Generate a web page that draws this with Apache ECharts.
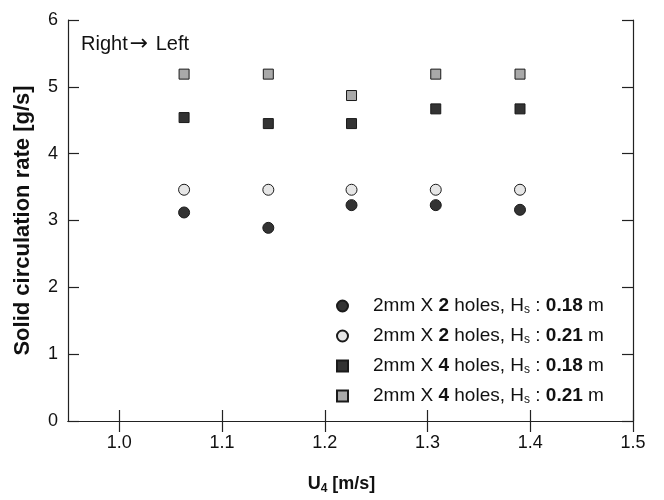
<!DOCTYPE html>
<html>
<head>
<meta charset="utf-8">
<script src="https://cdn.jsdelivr.net/npm/echarts@6/dist/echarts.min.js"></script>
<style>html,body{margin:0;padding:0;background:#fff;}#c{width:664px;height:500px;}</style>
</head>
<body>
<div id="c"></div>
<script>
// ---- data ----
var xValues = [1.063, 1.145, 1.226, 1.308, 1.390];
var holes2_h018 = [3.12, 2.89, 3.23, 3.23, 3.16];
var holes2_h021 = [3.46, 3.46, 3.46, 3.46, 3.46];
var holes4_h018 = [4.54, 4.45, 4.45, 4.67, 4.67];
var holes4_h021 = [5.19, 5.19, 4.87, 5.19, 5.19];
var seriesNames = ['2mm X 2 holes, Hs : 0.18 m', '2mm X 2 holes, Hs : 0.21 m', '2mm X 4 holes, Hs : 0.18 m', '2mm X 4 holes, Hs : 0.21 m'];
var legendRich = ['2mm X {b|2} holes, H{s|s} : {b|0.18} m', '2mm X {b|2} holes, H{s|s} : {b|0.21} m', '2mm X {b|4} holes, H{s|s} : {b|0.18} m', '2mm X {b|4} holes, H{s|s} : {b|0.21} m'];
var xTicks = [1.0, 1.1, 1.2, 1.3, 1.4, 1.5];
var annotation = '{t|Right}{ar|\u2192}{t| Left}';

function pairs(ys) { return xValues.map(function (x, i) { return [x, ys[i]]; }); }

var FONT = '"Liberation Sans", Arial, sans-serif';
var chart = echarts.init(document.getElementById('c'), null, {renderer: 'canvas'});

var axisCommon = {
  axisLine: {show: true, lineStyle: {color: '#222', width: 1.2}},
  axisTick: {show: true, inside: true, length: 11, lineStyle: {color: '#222', width: 1.2}},
  splitLine: {show: false}
};

function scatter(name, data, symbol, size, color) {
  return {
    name: name, type: 'scatter', data: data, symbol: symbol, symbolSize: size,
    itemStyle: {color: color, borderColor: '#1a1a1a', borderWidth: 1, opacity: 1},
    emphasis: {disabled: true}
  };
}

var option = {
  animation: false,
  textStyle: {fontFamily: FONT},
  grid: {left: 68, right: 31, top: 20, bottom: 75, containLabel: false},
  xAxis: [
    Object.assign({}, axisCommon, {
      type: 'value', min: 0.95, max: 1.5, position: 'bottom',
      axisTick: Object.assign({}, axisCommon.axisTick, {customValues: xTicks}),
      axisLabel: {customValues: xTicks, formatter: function (v) { return v.toFixed(1); },
        color: '#111', fontSize: 18, fontFamily: FONT, margin: 13},
      name: 'U{sub|4} [m/s]', nameLocation: 'middle', nameGap: 52,
      nameTextStyle: {fontSize: 18, fontWeight: 'bold', color: '#111', fontFamily: FONT, padding: [0, 18, 0, 0],
        rich: {sub: {fontSize: 12, fontWeight: 'bold', color: '#111', fontFamily: FONT, verticalAlign: 'bottom', padding: [10, 0, 0, 0]}}}
    }),
    Object.assign({}, axisCommon, {
      type: 'value', min: 0.95, max: 1.5, position: 'top',
      axisTick: Object.assign({}, axisCommon.axisTick, {customValues: xTicks}),
      axisLabel: {show: false}
    })
  ],
  yAxis: [
    Object.assign({}, axisCommon, {
      type: 'value', min: 0, max: 6, interval: 1, position: 'left',
      axisLabel: {color: '#111', fontSize: 18, fontFamily: FONT, margin: 10},
      name: 'Solid circulation rate [g/s]', nameLocation: 'middle', nameGap: 34, nameRotate: 90,
      nameTextStyle: {fontSize: 22, fontWeight: 'bold', color: '#111', fontFamily: FONT}
    }),
    Object.assign({}, axisCommon, {
      type: 'value', min: 0, max: 6, interval: 1, position: 'right',
      axisLabel: {show: false}
    })
  ],
  legend: {
    orient: 'vertical', left: 331, top: 291, itemWidth: 11, itemHeight: 11, itemGap: 10,
    data: seriesNames,
    selectedMode: false,
    formatter: function (name) { return legendRich[seriesNames.indexOf(name)]; },
    textStyle: {fontSize: 19, color: '#111', fontFamily: FONT, padding: [0, 0, 0, 20], lineHeight: 20,
      rich: {
        b: {fontSize: 19, fontWeight: 'bold', color: '#111', fontFamily: FONT},
        s: {fontSize: 12, color: '#111', fontFamily: FONT, verticalAlign: 'bottom', padding: [9, 0, 0, 0]}
      }}
  },
  graphic: [{
    type: 'text', left: 81, top: 33,
    style: {text: annotation, fill: '#111', fontFamily: FONT, fontSize: 20,
      rich: {
        t: {fontSize: 20, fill: '#111', fontFamily: FONT},
        ar: {fontSize: 22, fill: '#111', fontFamily: '"DejaVu Sans", sans-serif', padding: [0, 2, 0, 2]}
      }}
  }],
  series: [
    scatter(seriesNames[0], pairs(holes2_h018), 'circle', 11, '#333333'),
    scatter(seriesNames[1], pairs(holes2_h021), 'circle', 11, '#e6e6e6'),
    scatter(seriesNames[2], pairs(holes4_h018), 'rect', 10, '#333333'),
    scatter(seriesNames[3], pairs(holes4_h021), 'rect', 10, '#a9a9a9')
  ]
};
chart.setOption(option);
</script>
</body>
</html>
